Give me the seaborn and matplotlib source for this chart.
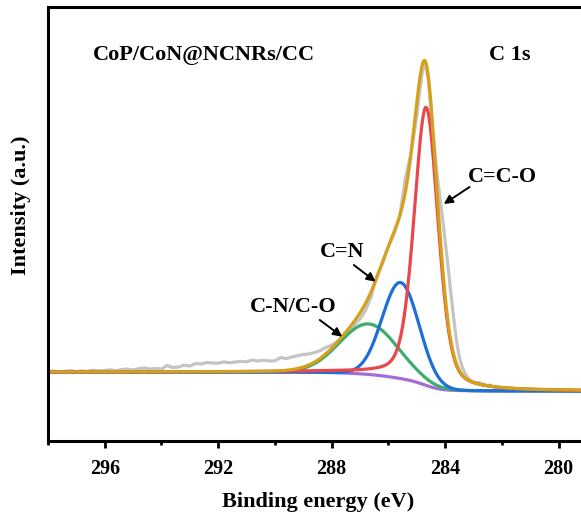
import numpy as np
import pandas as pd
import matplotlib
matplotlib.use("Agg")
import matplotlib.pyplot as plt
import seaborn as sns

# ---- measured C 1s spectrum (binding energy / eV, counts) ----
raw_be = [298.0, 297.8, 297.6, 297.4, 297.2, 297.0, 296.8, 296.6, 296.4, 296.2,
          296.0, 295.8, 295.6, 295.4, 295.2, 295.0, 294.8, 294.6, 294.4, 294.2,
          294.0, 293.8, 293.6, 293.4, 293.2, 293.0, 292.8, 292.6, 292.4, 292.2,
          292.0, 291.8, 291.6, 291.4, 291.2, 291.0, 290.8, 290.6, 290.4, 290.2,
          290.0, 289.8, 289.6, 289.4, 289.2, 289.0, 288.8, 288.6, 288.4, 288.2,
          288.0, 287.8, 287.6, 287.4, 287.2, 287.0, 286.8, 286.6, 286.5, 286.4,
          286.2, 286.0, 285.8, 285.6, 285.4, 285.2, 285.0, 284.9, 284.8, 284.75,
          284.7, 284.6, 284.5, 284.4, 284.3, 284.2, 284.1, 284.0, 283.9, 283.8,
          283.7, 283.6, 283.5, 283.4, 283.3, 283.2, 283.1, 283.0, 282.9, 282.8,
          282.7, 282.6, 282.5, 282.4, 282.3, 282.2, 282.1, 282.0, 281.8, 281.6,
          281.4, 281.2, 281.0, 280.8, 280.6, 280.4, 280.2, 280.0, 279.8, 279.6,
          279.4, 279.2]
raw_counts = [6930, 7000, 6900, 6980, 7050, 6940, 7020, 6960, 7080, 7000,
              7060, 7120, 7030, 7150, 7200, 7100, 7230, 7300, 7200, 7260,
              7200, 7550, 7350, 7400, 7580, 7500, 7750, 7700, 7850, 7800,
              7780, 7900, 7820, 7900, 7960, 7920, 8100, 8000, 8080, 8000,
              8020, 8350, 8250, 8400, 8530, 8650, 8700, 8850, 9050, 9350,
              9600, 9950, 10400, 11000, 11600, 12200, 13100, 14500, 15600, 16500,
              17800, 19500, 20700, 22500, 26300, 28800, 32500, 35000, 37000, 37700,
              37600, 36200, 33000, 30000, 27000, 24700, 22500, 20000, 17500, 14800,
              12300, 10000, 8400, 7400, 6800, 6300, 6050, 5900, 5830, 5850,
              5700, 5650, 5550, 5580, 5450, 5400, 5300, 5260, 5230, 5150,
              5180, 5100, 5130, 5060, 5100, 5050, 5100, 5080, 5040, 5070,
              5030, 5060]

# ---- peak-fit components ----
comp_names = ["C=C-O", "C=N", "C-N/C-O"]
comp_center = [284.67, 285.57, 286.69]    # eV
comp_height = [27800, 9600, 5050]         # counts above background
comp_fwhm = [1.00, 1.53, 2.40]            # eV
comp_lorentz = [0.35, 0.0, 0.0]           # Lorentzian fraction (GL mix)

# Shirley background end levels: high-BE side, low-BE side
bg_high = 6900
bg_low = 5000

# x-axis ticks
major_ticks = [296, 292, 288, 284, 280]
minor_ticks = [298, 294, 290, 286, 282]


def gl_peak(e, center, height, fwhm, eta):
    g = np.exp(-4 * np.log(2) * (e - center) ** 2 / fwhm ** 2)
    l = 1.0 / (1.0 + 4 * (e - center) ** 2 / fwhm ** 2)
    return height * ((1 - eta) * g + eta * l)


# evaluate the fit on a fine energy grid (ascending)
be = np.linspace(279.0, 298.0, 1901)
peaks = [gl_peak(be, c, h, w, m) for c, h, w, m in
         zip(comp_center, comp_height, comp_fwhm, comp_lorentz)]
peak_sum = np.sum(peaks, axis=0)
area = np.concatenate([[0.0], np.cumsum(0.5 * (peak_sum[1:] + peak_sum[:-1]) * np.diff(be))])
background = bg_low + (bg_high - bg_low) * area / area[-1]
envelope = background + peak_sum

raw_df = pd.DataFrame({"be": raw_be, "counts": raw_counts})
fit_df = pd.DataFrame({"be": be, "bg": background, "env": envelope})
for name, p in zip(comp_names, peaks):
    fit_df[name] = background + p

sns.set_theme(style="ticks")
plt.rcParams["font.family"] = ["Liberation Serif", "DejaVu Serif"]
plt.rcParams["font.weight"] = "bold"
plt.rcParams["text.color"] = "black"
plt.rcParams["axes.labelcolor"] = "black"
plt.rcParams["xtick.color"] = "black"
plt.rcParams["xtick.labelcolor"] = "black"

fig = plt.figure(figsize=(5.81, 5.20), dpi=100)
ax = fig.add_axes([48 / 581, 79 / 520, 539 / 581, 434.5 / 520])

lw = 2.3
sns.lineplot(data=raw_df, x="be", y="counts", ax=ax, color="#c4c4c4", lw=lw, sort=False)
sns.lineplot(data=fit_df, x="be", y="bg", ax=ax, color="#a66bd9", lw=lw, sort=False)
sns.lineplot(data=fit_df, x="be", y="C-N/C-O", ax=ax, color="#3bae6e", lw=lw, sort=False)
sns.lineplot(data=fit_df, x="be", y="C=N", ax=ax, color="#1f6fd6", lw=lw, sort=False)
sns.lineplot(data=fit_df, x="be", y="C=C-O", ax=ax, color="#e8474c", lw=lw, sort=False)
sns.lineplot(data=fit_df, x="be", y="env", ax=ax, color="#d6a11a", lw=lw, sort=False)

ax.set_xlim(298, 279)
ax.set_ylim(0, 43450)
ax.set_xticks(major_ticks)
ax.set_xticks(minor_ticks, minor=True)
ax.set_xticklabels([str(t) for t in major_ticks])
ax.set_yticks([])
ax.tick_params(axis="x", which="major", direction="out", length=5, width=2.0,
               pad=8, labelsize=14.5, color="black", labelcolor="black")
ax.tick_params(axis="x", which="minor", direction="out", length=3, width=2.0, color="black")
for s in ax.spines.values():
    s.set_linewidth(2.2)
    s.set_color("black")

ax.set_xlabel("Binding energy (eV)", fontsize=16, fontweight="bold", color="black")
ax.set_ylabel("Intensity (a.u.)", fontsize=16, fontweight="bold", color="black")
ax.xaxis.set_label_coords(0.501, -0.117)
ax.yaxis.set_label_coords(-0.031, 0.543)

ax.text(292.49, 38600, "CoP/CoN@NCNRs/CC", fontsize=16, fontweight="bold",
        ha="center", va="center", color="black")
ax.text(281.74, 38600, "C 1s", fontsize=16, fontweight="bold",
        ha="center", va="center", color="black")

arrow = dict(arrowstyle="-|>", color="black", lw=1.4, mutation_scale=13,
             shrinkA=0, shrinkB=0)
ax.text(281.97, 26400, "C=C-O", fontsize=15.8, fontweight="bold", ha="center",
        va="center", color="black")
ax.annotate("", xy=(284.05, 23700), xytext=(283.14, 25400), arrowprops=arrow)
ax.text(287.63, 18930, "C=N", fontsize=15.8, fontweight="bold", ha="center",
        va="center", color="black")
ax.annotate("", xy=(286.45, 15930), xytext=(287.22, 17600), arrowprops=arrow)
ax.text(289.36, 13400, "C-N/C-O", fontsize=16, fontweight="bold", ha="center",
        va="center", color="black")
ax.annotate("", xy=(287.63, 10430), xytext=(288.42, 12100), arrowprops=arrow)

fig.savefig("out.png", dpi=100)
